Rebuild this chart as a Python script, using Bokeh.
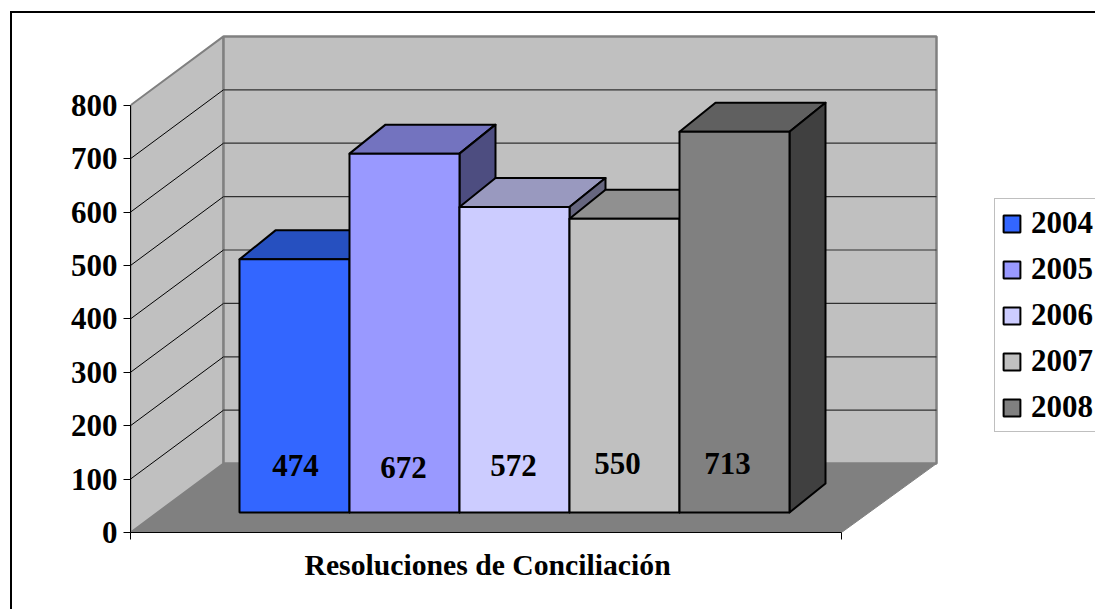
from bokeh.plotting import figure
from bokeh.models import Range1d, FixedTicker, Legend, LegendItem, Title
from bokeh.core.properties import value
from bokeh.embed import file_html
from bokeh.resources import INLINE

years = ["2004", "2005", "2006", "2007", "2008"]
resoluciones = [474, 672, 572, 550, 713]
front_colors = ["#3366FF", "#9999FF", "#CCCCFF", "#C0C0C0", "#808080"]
top_colors = ["#2650C0", "#7373BF", "#9999BF", "#909090", "#606060"]
side_colors = ["#1A3380", "#4D4D80", "#66667F", "#606060", "#404040"]
y_ticks = [0, 100, 200, 300, 400, 500, 600, 700, 800]
x_title = "Resoluciones de Conciliación"

FONT = "Liberation Serif"
AXIS_W = 711      # floor length along the front edge
WALL_DX, WALL_DY = 93, 129   # perspective shift front plane -> back wall
WALL_R = 806      # right end of the back wall
BAR_X0, BAR_W = 109, 110
BAR_BASE = 37.5
BAR_DX, BAR_DY = 36, 54.3

frame_css = """
:host::after {
  content: ""; position: absolute; left: 10px; top: 11px; right: 0; bottom: 0;
  border-left: 2.5px solid black; border-top: 2.5px solid black; pointer-events: none;
}
"""

p = figure(width=1095, height=609, output_backend="svg", toolbar_location=None,
           x_range=Range1d(0, 965), y_range=Range1d(0, 996.25),
           min_border_left=130, min_border_right=0, min_border_top=0, min_border_bottom=77,
           outline_line_color=None, background_fill_color="white",
           stylesheets=[frame_css])
p.grid.visible = False

# axes
ya = p.yaxis[0]
ya.ticker = FixedTicker(ticks=y_ticks)
ya.bounds = (0, 800)
ya.major_tick_out = 7
ya.major_tick_in = 0
ya.minor_tick_out = 0
ya.minor_tick_in = 0
ya.major_tick_line_color = "black"
ya.axis_line_color = "black"
ya.major_label_standoff = 6
ya.major_label_text_font = FONT
ya.major_label_text_font_style = "bold"
ya.major_label_text_font_size = "31px"
ya.major_label_text_color = "black"

xa = p.xaxis[0]
xa.ticker = FixedTicker(ticks=[0, AXIS_W])
xa.bounds = (0, AXIS_W)
xa.major_label_overrides = {0: "", AXIS_W: ""}
xa.major_tick_out = 7
xa.major_tick_in = 0
xa.minor_tick_out = 0
xa.minor_tick_in = 0
xa.major_tick_line_color = "black"
xa.axis_line_color = "black"

# walls and floor
wall_top = y_ticks[-1]
p.patch([0, WALL_DX, WALL_R, AXIS_W], [0, WALL_DY, WALL_DY, 0],
        fill_color="#808080", line_color="#808080", line_width=1)
p.patch([0, WALL_DX, WALL_DX, 0], [0, WALL_DY, wall_top + WALL_DY, wall_top],
        fill_color="#C0C0C0", line_color="#808080", line_width=2)
p.patch([WALL_DX, WALL_R, WALL_R, WALL_DX],
        [WALL_DY, WALL_DY, wall_top + WALL_DY, wall_top + WALL_DY],
        fill_color="#C0C0C0", line_color="#808080", line_width=2.5)

grid = y_ticks[1:-1]
p.segment([0] * len(grid), grid, [WALL_DX] * len(grid), [g + WALL_DY for g in grid],
          line_color="black", line_width=1)
p.segment([WALL_DX] * len(grid), [g + WALL_DY for g in grid],
          [WALL_R] * len(grid), [g + WALL_DY for g in grid],
          line_color="#303030", line_width=1.2)

# bars
items = []
for i, (yr, v) in enumerate(zip(years, resoluciones)):
    l = BAR_X0 + i * BAR_W
    r = l + BAR_W
    t = BAR_BASE + v
    b = BAR_BASE
    p.patch([l, l + BAR_DX, r + BAR_DX, r], [t, t + BAR_DY, t + BAR_DY, t],
            fill_color=top_colors[i], line_color="black", line_width=2, line_join="round")
    p.patch([r, r + BAR_DX, r + BAR_DX, r], [b, b + BAR_DY, t + BAR_DY, t],
            fill_color=side_colors[i], line_color="black", line_width=2, line_join="round")
    rend = p.quad(left=[l], right=[r], bottom=[b], top=[t],
                  fill_color=front_colors[i], line_color="black", line_width=2)
    items.append(LegendItem(label=yr, renderers=[rend]))

# value labels
label_dx = [1, -1, -1, -7, -7]
label_dy = [0, 2, 0, -2, -2]
for i, v in enumerate(resoluciones):
    p.text(x=[BAR_X0 + (i + 0.5) * BAR_W], y=[125.5], text=[str(v)],
           x_offset=label_dx[i], y_offset=label_dy[i],
           text_font=value(FONT), text_font_style="bold", text_font_size="31px",
           text_align="center", text_baseline="middle", text_color="black")

# category title
p.add_layout(Title(text=x_title, align="left", offset=174, standoff=14, text_font=FONT,
                   text_font_style="bold", text_font_size="29.7px", text_color="black"), "below")

# legend
leg = Legend(items=items, location=(864, 100), orientation="vertical",
             margin=0, padding=6, spacing=10, glyph_width=21, glyph_height=21,
             label_standoff=9, label_text_font=FONT, label_text_font_style="bold",
             label_text_font_size="31px", label_text_color="black",
             border_line_color="#808080", border_line_width=1.5,
             background_fill_color="white", background_fill_alpha=1)
p.add_layout(leg, "center")

open("out.html", "w").write(file_html(p, INLINE))
